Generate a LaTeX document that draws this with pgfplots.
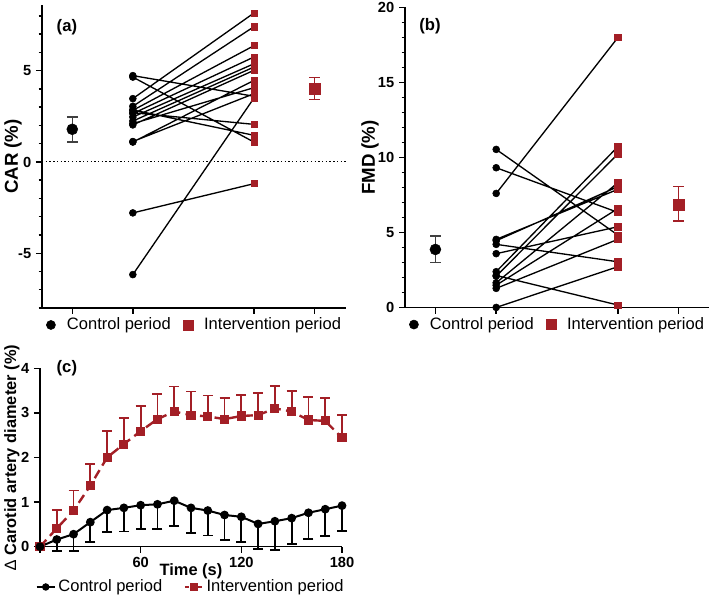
\documentclass[border=0pt]{standalone}
\usepackage{pgfplots}
\pgfplotsset{compat=1.18}
\usepackage{pgfplotstable}
\usepackage{fontspec}
\setmainfont{Liberation Sans}
\definecolor{myred}{RGB}{163,31,38}

% paired individual data, panel (a): x=1 control, x=3 intervention
\pgfplotstableread{
x y
1 3.47
3 8.16
1 nan
1 3.05
3 7.41
1 nan
1 2.83
3 6.37
1 nan
1 2.65
3 5.75
1 nan
1 2.46
3 5.38
1 nan
1 2.24
3 5.20
1 nan
1 2.03
3 5.02
1 nan
1 1.09
3 4.47
1 nan
1 2.10
3 4.07
1 nan
1 1.12
3 3.74
1 nan
1 -6.17
3 3.50
1 nan
1 4.73
3 3.60
1 nan
1 4.65
3 1.09
1 nan
1 2.70
3 2.06
1 nan
1 2.85
3 1.46
1 nan
1 -2.79
3 -1.19
}\pairsA

\pgfplotstableread{
x y
1 7.61
3 17.98
1 nan
1 10.54
3 4.84
1 nan
1 9.32
3 6.35
1 nan
1 4.46
3 8.06
1 nan
1 4.55
3 7.88
1 nan
1 4.22
3 3.06
1 nan
1 3.60
3 5.39
1 nan
1 2.40
3 10.72
1 nan
1 2.10
3 10.23
1 nan
1 1.66
3 8.32
1 nan
1 1.50
3 6.60
1 nan
1 1.29
3 4.55
1 nan
1 2.15
3 0.18
1 nan
1 0.02
3 2.73
}\pairsB

% group means with SEM
\pgfplotstableread{
x y ep em
0 1.79 0.67 0.70
}\meanAc
\pgfplotstableread{
x y ep em
4 4.01 0.61 0.60
}\meanAi
\pgfplotstableread{
x y ep em
0 3.88 0.89 0.86
}\meanBc
\pgfplotstableread{
x y ep em
4 6.84 1.22 1.07
}\meanBi

% panel (c) time course
\pgfplotstableread{
t c cerr i ierr
0 0 0 0 0
10 0.16 0.25 0.41 0.41
20 0.28 0.37 0.81 0.45
30 0.55 0.44 1.37 0.48
40 0.82 0.50 2.00 0.60
50 0.87 0.53 2.30 0.58
60 0.93 0.53 2.59 0.57
70 0.95 0.55 2.86 0.56
80 1.03 0.56 3.03 0.56
90 0.87 0.56 2.95 0.53
100 0.81 0.56 2.92 0.47
110 0.71 0.56 2.86 0.47
120 0.67 0.56 2.93 0.47
130 0.51 0.56 2.95 0.50
140 0.57 0.64 3.10 0.50
150 0.64 0.58 3.03 0.47
160 0.76 0.59 2.84 0.51
170 0.84 0.60 2.82 0.51
180 0.92 0.57 2.44 0.51
}\timeC

\pgfplotsset{
  gp/.style={
    scale only axis, clip=false,
    axis x line*=bottom, axis y line*=left,
    axis line style={-, line width=1.1pt},
    tick align=outside,
    major tick length=4.5pt, minor tick length=2.5pt,
    every tick/.style={black, line width=1.1pt},
    tick label style={font=\bfseries\fontsize{11}{13}\selectfont},
    label style={font=\bfseries\fontsize{12.3}{14}\selectfont},
    legend style={draw=none, fill=none, font=\fontsize{12.4}{14}\selectfont,
      /tikz/every even column/.append style={column sep=6pt}},
    legend columns=2,
  },
  marklegend/.style={legend image code/.code={%
      \draw[##1] plot coordinates {(0pt,0pt)};
      \path[draw=none, fill=none] (-5pt,0pt) -- (10pt,0pt);}},
  linelegend/.style={legend image code/.code={%
      \draw[mark repeat=2, mark phase=2, ##1] plot coordinates {(0pt,0pt) (6.75pt,0pt) (13.5pt,0pt)};}},
  meanerr/.style={error bars/.cd, y dir=both, y explicit,
    error bar style={line width=1pt, #1},
    error mark options={rotate=90, mark size=4pt, line width=1pt, #1}},
}

\begin{document}
\begin{tikzpicture}
\useasboundingbox (0,0) rectangle (531.75pt,447pt);

% ---------------- panel (a) ----------------
\begin{axis}[gp, marklegend,
  at={(31.5pt,216pt)}, anchor=south west,
  width=228pt, height=227.25pt,
  xmin=-0.5, xmax=4.52, ymin=-8, ymax=8.6,
  xtick={0,1,3,4}, xticklabels={{},{},{},{}},
  ytick={-5,0,5}, yticklabels={-5,0,5},
  minor ytick={-8,-7,-6,-4,-3,-2,-1,1,2,3,4,6,7,8},
  ylabel={CAR (\%)},
  ylabel style={font=\bfseries\fontsize{14}{16}\selectfont, at={(axis description cs:-0.095,0.5)}, anchor=center},
  legend style={at={(axis description cs:0.5,-0.056)}, anchor=center},
]
\addplot[forget plot, black, line width=0.7pt, dash pattern=on 1pt off 1.8pt] coordinates {(-0.5,0) (4.52,0)};
\addplot[forget plot, black, line width=1pt, unbounded coords=jump] table[x=x,y=y] {\pairsA};
\addplot[forget plot, only marks, mark=*, mark size=2.6pt, black, restrict x to domain=0.5:1.5] table[x=x,y=y] {\pairsA};
\addplot[forget plot, only marks, mark=square*, mark size=2.3pt, myred, restrict x to domain=2.5:3.5] table[x=x,y=y] {\pairsA};
\addplot[forget plot, only marks, mark=*, mark size=4.1pt, black, meanerr={black!75}] table[x=x,y=y,y error plus=ep,y error minus=em] {\meanAc};
\addplot[forget plot, only marks, mark=square*, mark size=4.1pt, myred, meanerr={myred}] table[x=x,y=y,y error plus=ep,y error minus=em] {\meanAi};
\node[font=\bfseries\fontsize{12.5}{14}\selectfont] at (axis description cs:0.082,0.927) {(a)};
\addlegendimage{only marks, mark=*, mark size=3.4pt, black}
\addlegendentry{Control period}
\addlegendimage{only marks, mark=square*, mark size=3.7pt, myred}
\addlegendentry{Intervention period}
\end{axis}

% ---------------- panel (b) ----------------
\begin{axis}[gp, marklegend,
  at={(303.75pt,216.2pt)}, anchor=south west,
  width=228pt, height=225.3pt,
  xmin=-0.5, xmax=4.5, ymin=0, ymax=20,
  xtick={0,1,3,4}, xticklabels={{},{},{},{}},
  ytick={0,5,10,15,20}, yticklabels={0,5,10,15,20},
  minor ytick={1,2,3,4,6,7,8,9,11,12,13,14,16,17,18,19},
  ylabel={FMD (\%)},
  ylabel style={font=\bfseries\fontsize{14}{16}\selectfont, at={(axis description cs:-0.115,0.5)}, anchor=center},
  legend style={at={(axis description cs:0.5,-0.056)}, anchor=center},
]
\addplot[forget plot, black, line width=1pt, unbounded coords=jump] table[x=x,y=y] {\pairsB};
\addplot[forget plot, only marks, mark=*, mark size=2.6pt, black, restrict x to domain=0.5:1.5] table[x=x,y=y] {\pairsB};
\addplot[forget plot, only marks, mark=square*, mark size=2.3pt, myred, restrict x to domain=2.5:3.5] table[x=x,y=y] {\pairsB};
\addplot[forget plot, only marks, mark=*, mark size=4.1pt, black, meanerr={black!75}] table[x=x,y=y,y error plus=ep,y error minus=em] {\meanBc};
\addplot[forget plot, only marks, mark=square*, mark size=4.1pt, myred, meanerr={myred}] table[x=x,y=y,y error plus=ep,y error minus=em] {\meanBi};
\node[font=\bfseries\fontsize{12.5}{14}\selectfont] at (axis description cs:0.082,0.938) {(b)};
\addlegendimage{only marks, mark=*, mark size=3.4pt, black}
\addlegendentry{Control period}
\addlegendimage{only marks, mark=square*, mark size=3.7pt, myred}
\addlegendentry{Intervention period}
\end{axis}

% ---------------- panel (c) ----------------
\begin{axis}[gp, linelegend,
  at={(30pt,37pt)}, anchor=south west,
  width=226.5pt, height=133.8pt,
  xmin=0, xmax=180, ymin=0, ymax=4,
  xtick={0,60,120,180}, xticklabels={{},60,120,180},
  ytick={0,1,2,3,4}, yticklabels={0,1,2,3,4},
  xlabel={Time (s)},
  xlabel style={at={(axis description cs:0.5,-0.14)}, anchor=center},
  ylabel={{\mdseries ∆} Carotid artery diameter (\%)},
  ylabel style={at={(axis description cs:-0.093,0.5)}, anchor=center},
  legend style={at={(axis description cs:0.5,-0.226)}, anchor=center,
    /tikz/every even column/.append style={column sep=14pt}},
]
\addplot[forget plot, myred, line width=1.8pt, dash pattern=on 7pt off 4pt,
  mark=square*, mark size=2.5pt, mark options={solid},
  error bars/.cd, y dir=plus, y explicit,
  error bar style={line width=1.4pt, solid, myred},
  error mark options={rotate=90, mark size=3.75pt, line width=1.4pt, solid, myred}]
  table[x=t,y=i,y error=ierr] {\timeC};
\addplot[forget plot, black, line width=1.5pt,
  mark=*, mark size=2.5pt,
  error bars/.cd, y dir=minus, y explicit,
  error bar style={line width=1.4pt, black},
  error mark options={rotate=90, mark size=3.75pt, line width=1.4pt, black}]
  table[x=t,y=c,y error=cerr] {\timeC};
\node[font=\bfseries\fontsize{12.5}{14}\selectfont] at (axis description cs:0.089,1.0) {(c)};
\addlegendimage{black, line width=1.5pt, mark=*, mark size=2pt}
\addlegendentry{Control period}
\addlegendimage{myred, line width=1.8pt, dash pattern=on 3pt off 2pt, mark=square*, mark size=2.2pt, mark options={solid}}
\addlegendentry{Intervention period}
\end{axis}
\end{tikzpicture}
\end{document}
